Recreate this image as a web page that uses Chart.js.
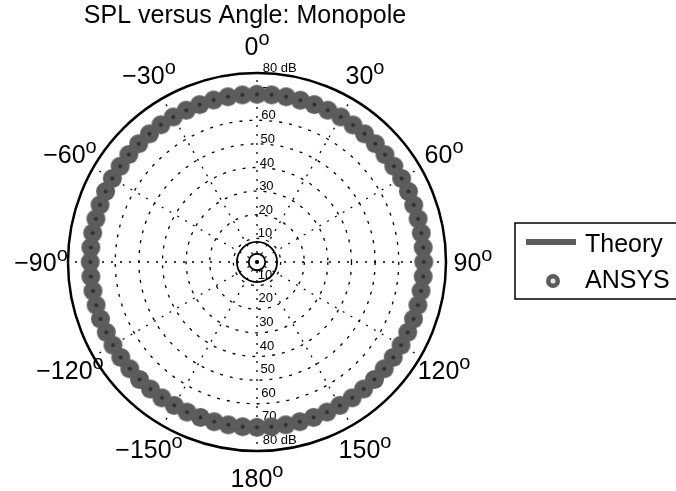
<!DOCTYPE html>
<html>
<head>
<meta charset="utf-8">
<script src="https://cdn.jsdelivr.net/npm/chart.js@4.4.1/dist/chart.umd.min.js"></script>
<style>
  html, body { margin: 0; padding: 0; background: #fff; }
</style>
</head>
<body>
<canvas id="polar" width="676" height="491"></canvas>
<script>
// angle of every sample, degrees clockwise from the top
const angles = [
  0, 5, 10, 15, 20, 25, 30, 35, 40, 45, 50, 55,
  60, 65, 70, 75, 80, 85, 90, 95, 100, 105, 110, 115,
  120, 125, 130, 135, 140, 145, 150, 155, 160, 165, 170, 175,
  180, 185, 190, 195, 200, 205, 210, 215, 220, 225, 230, 235,
  240, 245, 250, 255, 260, 265, 270, 275, 280, 285, 290, 295,
  300, 305, 310, 315, 320, 325, 330, 335, 340, 345, 350, 355
];

// one label every 30 degrees
const angleTicks = ['0', '30', '60', '90', '120', '150', '180', '\u2212150', '\u2212120', '\u221290', '\u221260', '\u221230'];

const ringValues = [0, 3.5, 8.5, 10, 20, 30, 40, 50, 60, 70, 80];
const ringLabelValues = [10, 20, 30, 40, 50, 60, 70, 80];
const ringLabels = ['10', '20', '30', '40', '50', '60', '70', '80 dB'];

// SPL in dB
const theorySPL = [
  70.4, 70.4, 70.4, 70.4, 70.4, 70.4, 70.4, 70.4, 70.4, 70.4, 70.4, 70.4,
  70.4, 70.4, 70.4, 70.4, 70.4, 70.4, 70.4, 70.4, 70.4, 70.4, 70.4, 70.4,
  70.4, 70.4, 70.4, 70.4, 70.4, 70.4, 70.4, 70.4, 70.4, 70.4, 70.4, 70.4,
  70.4, 70.4, 70.4, 70.4, 70.4, 70.4, 70.4, 70.4, 70.4, 70.4, 70.4, 70.4,
  70.4, 70.4, 70.4, 70.4, 70.4, 70.4, 70.4, 70.4, 70.4, 70.4, 70.4, 70.4,
  70.4, 70.4, 70.4, 70.4, 70.4, 70.4, 70.4, 70.4, 70.4, 70.4, 70.4, 70.4
];
const ansysSPL = [
  71.0, 71.0, 71.0, 70.9, 70.9, 70.9, 70.9, 70.8, 70.8, 70.8, 70.7, 70.7,
  70.7, 70.7, 70.6, 70.6, 70.6, 70.6, 70.6, 70.6, 70.5, 70.5, 70.5, 70.4,
  70.4, 70.4, 70.3, 70.3, 70.2, 70.2, 70.1, 70.1, 70.0, 70.0, 70.0, 70.0,
  70.0, 70.0, 70.0, 70.0, 70.0, 70.1, 70.1, 70.2, 70.2, 70.3, 70.3, 70.4,
  70.4, 70.4, 70.5, 70.5, 70.5, 70.6, 70.6, 70.6, 70.6, 70.6, 70.7, 70.7,
  70.7, 70.7, 70.8, 70.8, 70.8, 70.9, 70.9, 70.9, 70.9, 71.0, 71.0, 71.0
];

const FONT = '"Liberation Sans", Arial, Helvetica, sans-serif';
const GREY = '#5c5c5c';

function makeMarker(r, fill, dot, dotR) {
  const c = document.createElement('canvas');
  c.width = c.height = r * 2 + 2;
  const g = c.getContext('2d');
  g.fillStyle = fill;
  g.beginPath();
  g.arc(c.width / 2, c.height / 2, r, 0, Math.PI * 2);
  g.fill();
  g.fillStyle = dot;
  g.beginPath();
  g.arc(c.width / 2, c.height / 2, dotR, 0, Math.PI * 2);
  g.fill();
  return c;
}

const plotMarker = makeMarker(9.5, GREY, '#2e2e2e', 2);
const legendMarker = makeMarker(7, GREY, '#e6e6e6', 2.5);

// text with a raised "o" for degrees
function degLabel(ctx, text, x, y) {
  ctx.font = '25px ' + FONT;
  const w1 = ctx.measureText(text).width;
  ctx.font = '20px ' + FONT;
  const w2 = ctx.measureText('o').width;
  const x0 = x - (w1 + w2) / 2;
  ctx.font = '25px ' + FONT;
  ctx.fillText(text, x0, y + 9);
  ctx.font = '20px ' + FONT;
  ctx.fillText('o', x0 + w1, y - 1);
}

const polarText = {
  id: 'polarText',
  beforeDatasetsDraw(chart) {
    const r = chart.scales.r;
    const ctx = chart.ctx;
    ctx.save();
    ctx.font = '13px ' + FONT;
    ctx.fillStyle = '#000';
    ctx.textAlign = 'left';
    ctx.textBaseline = 'alphabetic';
    ringLabelValues.forEach((v, i) => {
      const d = r.getDistanceFromCenterForValue(v);
      const x = r.xCenter + d * 0.03;
      ctx.fillText(ringLabels[i], x, r.yCenter - d - 1);
      ctx.fillText(ringLabels[i], x, r.yCenter + d - 7);
    });
    ctx.restore();
  },
  afterDraw(chart) {
    const r = chart.scales.r;
    const ctx = chart.ctx;
    ctx.save();
    ctx.fillStyle = '#000';
    ctx.textAlign = 'left';
    ctx.textBaseline = 'alphabetic';

    angleTicks.forEach((t, i) => {
      const p = r.getPointPosition(i * 6, r.drawingArea + 27);
      degLabel(ctx, t, p.x, p.y);
    });

    ctx.font = '25px ' + FONT;
    ctx.textAlign = 'center';
    ctx.fillText('SPL versus Angle: Monopole', 245, 23);

    // legend box
    const ds = chart.data.datasets;
    ctx.strokeStyle = '#000';
    ctx.lineWidth = 1.5;
    ctx.strokeRect(515, 223, 170, 76);
    ctx.strokeStyle = ds[0].borderColor;
    ctx.lineWidth = ds[0].borderWidth;
    ctx.beginPath();
    ctx.moveTo(526, 242);
    ctx.lineTo(576, 242);
    ctx.stroke();
    ctx.drawImage(legendMarker, 553 - legendMarker.width / 2, 281 - legendMarker.height / 2);
    ctx.textAlign = 'left';
    ctx.textBaseline = 'middle';
    ctx.font = '25px ' + FONT;
    ctx.fillText(ds[0].label, 585, 245);
    ctx.fillText(ds[1].label, 585, 281);
    ctx.restore();
  }
};

new Chart(document.getElementById('polar'), {
  type: 'radar',
  data: {
    labels: angles,
    datasets: [
      {
        label: 'Theory',
        data: theorySPL,
        borderColor: GREY,
        backgroundColor: 'rgba(0,0,0,0)',
        borderWidth: 6,
        pointRadius: 0,
        fill: false,
        order: 2
      },
      {
        label: 'ANSYS',
        data: ansysSPL,
        showLine: false,
        backgroundColor: 'rgba(0,0,0,0)',
        fill: false,
        pointStyle: plotMarker,
        pointRadius: 9,
        order: 1
      }
    ]
  },
  options: {
    responsive: false,
    animation: false,
    events: [],
    layout: { padding: { left: 68, top: 73, right: 230, bottom: 40 } },
    plugins: {
      legend: { display: false },
      title: { display: false },
      tooltip: { enabled: false }
    },
    scales: {
      r: {
        min: 0,
        max: 80,
        startAngle: 0,
        afterBuildTicks: s => { s.ticks = ringValues.map(v => ({ value: v })); },
        ticks: { display: false },
        pointLabels: { display: false },
        grid: {
          circular: true,
          color: '#000',
          lineWidth: c => c.tick.value === 80 ? 2.5 : (c.tick.value < 10 ? 1.8 : 1.3)
        },
        border: {
          dash: c => (c.tick.value < 10 || c.tick.value === 80) ? [] : [3, 7]
        },
        angleLines: {
          color: '#000',
          lineWidth: c => c.index % 6 === 0 ? 1.3 : 0,
          borderDash: [2, 7]
        }
      }
    }
  },
  plugins: [polarText]
});
</script>
</body>
</html>
